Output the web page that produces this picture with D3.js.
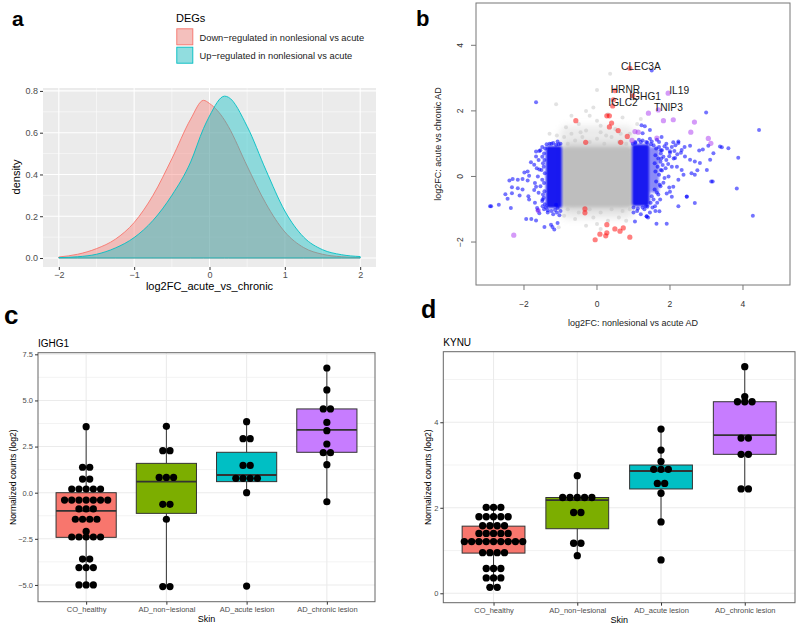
<!DOCTYPE html>
<html><head><meta charset="utf-8">
<script src="https://cdn.jsdelivr.net/npm/d3@7"></script>
<style>
body{margin:0;background:#fff}
svg{display:block}
text{font-family:"Liberation Sans",Arial,Helvetica,sans-serif}
</style>
</head><body>
<svg id="fig" width="800" height="627"></svg>
<script>
// ================= DATA =================
// Panel a: density curves
const densX    = [-2,-1.75,-1.5,-1.25,-1,-0.75,-0.5,-0.25,-0.08,0,0.2,0.25,0.5,0.75,1,1.25,1.5,1.75,2];
const densDown = [0.005,0.018,0.045,0.09,0.17,0.30,0.475,0.665,0.755,0.74,0.66,0.63,0.44,0.26,0.125,0.05,0.018,0.006,0.002];
const densUp   = [0.002,0.006,0.018,0.048,0.098,0.18,0.30,0.46,0.62,0.68,0.775,0.77,0.63,0.42,0.225,0.10,0.04,0.016,0.007];
const degLabels = ["Down\u2212regulated in nonlesional vs acute","Up\u2212regulated in nonlesional vs acute"];
const densXTicks = [-2,-1,0,1,2];
const densXMinor = [-1.5,-0.5,0.5,1.5];
const densYTicks = [0,0.2,0.4,0.6,0.8];
const densYMinor = [0.1,0.3,0.5,0.7];

// Panel b: scatter (dense cores as regions, sparse points listed)
const grayRegions = [
  {x0:-1.02,x1:1.02,y0:-1.3,y1:1.55,level:0.3},
  {x0:-0.97,x1:0.97,y0:-1.02,y1:1.02,level:0.6},
  {x0:-0.95,x1:0.95,y0:-0.92,y1:0.88,level:1}
];
const blueRegions = [
  {x0:-1.40,x1:-0.96,y0:-0.96,y1:0.93,level:1},
  {x0:0.96,x1:1.44,y0:-0.9,y1:0.98,level:1},
  {x0:1.44,x1:1.7,y0:-0.5,y1:0.9,level:0.5}
];
const grayPts = [[-0.8,1.0],[-0.6,1.1],[-0.4,1.2],[-0.2,1.05],[0,1.15],[0.2,1.0],[0.4,1.2],[0.6,1.05],[0.8,1.0],[-0.7,1.3],[-0.3,1.4],[0.1,1.35],[0.5,1.45],[-0.5,1.6],[0,1.7],[0.3,1.9],[-0.2,1.85],[-0.9,1.2],[0.9,1.3],[-0.1,2.1],[0.36,3.13],[0.0,2.64],[-0.3,2.0],[0.7,1.8],[-0.7,1.85],[0.1,1.55],[-0.45,1.35],[0.25,1.25],[0.65,1.3],[-0.85,1.5],[-1.12,2.2],[-0.8,-1.0],[-0.5,-1.1],[-0.2,-1.0],[0.1,-1.1],[0.4,-1.0],[0.7,-1.05],[0.9,-1.0],[-0.6,-1.3],[-0.1,-1.25],[0.3,-1.35],[0.6,-1.25],[-0.3,-1.5],[0.1,-1.6],[-0.9,-1.2],[0.8,-1.35],[-1.05,-1.55],[0.0,-1.45],[-1.3,1.3],[-1.1,1.25],[1.1,1.6],[1.2,1.75]];
const bluePts = [[-1.67,2.26],[-1.08,1.07],[-1.67,0.76],[-1.58,0.78],[-1.81,0.43],[-1.72,0.36],[-1.99,0.12],[-1.9,0.15],[-1.86,0.02],[-2.31,-0.08],[-2.4,-0.12],[-2.17,-0.1],[-2.04,-0.08],[-1.9,-0.12],[-2.33,-0.33],[-2.17,-0.36],[-2.04,-0.4],[-2.51,-0.54],[-2.33,-0.51],[-2.45,-0.68],[-2.12,-0.58],[-1.88,-0.6],[-1.86,-0.7],[-2.9,-0.91],[-2.69,-0.86],[-2.36,-0.96],[-1.64,-0.96],[-1.62,-1.03],[-1.58,-1.12],[-1.94,-1.3],[-1.8,-1.3],[-1.67,-1.34],[-1.44,-1.54],[-1.26,-1.47],[-1.17,-1.62],[-1.08,-1.42],[-1.22,-1.54],[-1.03,-1.18],[-1.08,-0.96],[-1.67,0.61],[-1.62,0.0],[-1.67,-0.31],[-1.72,-0.41],[-1.58,0.21],[-1.49,-0.7],[-1.12,-0.86],[-1.49,-0.91],[-1.5,0.9],[-1.55,0.8],[-1.5,0.6],[-1.48,0.4],[-1.52,0.2],[-1.5,-0.1],[-1.55,-0.3],[-1.48,-0.55],[-1.5,-0.75],[-1.45,-1.0],[-1.35,-1.1],[-1.2,-1.15],[-1.1,-1.1],[-1.3,1.0],[-1.2,1.02],[-1.05,0.98],[-1.6,0.5],[-1.65,0.25],[-1.7,-0.2],[-1.6,-0.5],[-1.7,-0.8],[-2.93,-0.91],
 [-1.42,0.85],[-1.45,0.7],[-1.44,0.5],[-1.46,0.3],[-1.43,0.1],[-1.45,-0.2],[-1.44,-0.45],[-1.46,-0.65],[-1.43,-0.85],[-1.38,0.98],[-1.25,1.0],[-1.12,0.97],[-1.0,1.0],[-1.35,-1.03],[-1.25,-1.05],[-1.15,-1.02],[-1.0,-1.05],[-1.4,-0.95],
 [1.5,3.23],[2.99,1.95],[4.44,1.42],[1.22,1.56],[1.31,1.53],[1.45,1.42],[1.77,1.2],[2.09,1.04],[2.23,1.02],[2.55,0.94],[2.8,0.79],[2.9,0.82],[3.05,0.94],[3.19,0.71],[3.42,0.89],[3.6,0.86],[3.87,0.57],[2.32,0.81],[2.41,0.61],[2.55,0.51],[2.68,0.46],[2.75,0.19],[3.01,0.2],[3.1,0.51],[2.82,0.41],[2.59,0.1],[2.68,0.05],[2.32,0.2],[2.37,0.05],[2.23,-0.1],[3.17,-0.15],[3.83,-0.37],[1.98,-0.34],[2.09,-0.31],[2.0,-0.47],[1.91,-0.52],[2.46,-0.62],[2.68,-0.81],[2.23,-0.91],[2.05,-0.62],[4.27,-1.2],[1.91,-1.44],[1.63,-1.44],[1.71,-1.06],[1.59,-0.91],[1.36,-1.21],[1.04,-1.37],[1.34,-0.91],[1.73,-0.7],[1.64,-0.49],[1.82,-0.19],[1.96,0.0],[2.19,0.3],[2.14,0.56],[2.0,0.77],[2.23,1.07],[1.64,1.12],[1.5,1.07],[1.25,1.32],[3.37,0.91],[3.13,-0.15],[2.46,-0.61],[1.36,-1.22],
 [1.55,0.95],[1.62,0.85],[1.7,0.9],[1.78,0.8],[1.85,0.92],[1.92,0.85],[2.0,0.72],[2.05,0.9],[2.12,0.78],[1.6,0.65],[1.68,0.55],[1.75,0.7],[1.82,0.6],[1.9,0.5],[1.98,0.62],[2.1,0.55],[2.2,0.68],[1.58,0.4],[1.66,0.3],[1.74,0.45],[1.8,0.35],[1.88,0.25],[1.95,0.38],[2.05,0.3],[1.6,0.15],[1.7,0.05],[1.78,0.18],[1.85,-0.05],[1.62,-0.15],[1.72,-0.25],[1.58,-0.4],[1.68,-0.55],[1.55,-0.7],[1.65,-0.8],[1.52,-0.95],[1.6,-1.05],[1.45,-1.1],[1.4,-1.25],[1.2,-1.15],[1.1,-1.05],[1.3,-1.0],[1.0,-1.1],[1.25,1.1],[1.35,1.05],[1.45,1.15],[1.15,1.12],[1.05,1.05],[1.7,1.05],[1.9,1.0],[2.15,0.95],[2.3,0.72],[2.4,0.9],
 [1.48,0.98],[1.38,1.03],[1.2,1.05],[1.05,1.02],[0.98,1.0],[1.0,-0.95],[1.12,-0.98],[1.25,-0.95],[1.38,-0.92],[1.47,-0.8],[1.5,-0.6],[1.75,0.8],[1.75,0.2],[1.74,-0.3],[1.76,0.55]];
const redPts = [[0.9,3.3],[0.49,2.62],[0.98,2.46],[0.45,2.34],[0.43,2.15],[0.27,1.85],[0.34,1.85],[-0.58,1.7],[0.4,1.63],[0.34,1.51],[0.58,1.4],[0.83,1.22],[-0.31,1.04],[0.65,1.04],[-0.33,-0.99],[-0.33,-1.11],[0.27,-1.47],[0.27,-1.72],[0.24,-1.81],[0.49,-1.6],[0.63,-1.67],[0.72,-1.57],[-0.05,-1.93],[0.9,-1.85],[0.08,-1.76]];
const purplePts = [[1.95,2.54],[1.41,1.93],[1.68,2.03],[1.82,1.7],[2.09,1.73],[2.67,1.66],[2.57,1.35],[1.04,1.37],[1.13,1.35],[0.96,1.1],[3.05,1.16],[3.12,1.01],[1.64,1.17],[-2.28,-1.79],[-1.61,-1.04]];
const geneLabels = [
  {gene:"CLEC3A",x:0.66,y:3.25},{gene:"HRNR",x:0.375,y:2.56},{gene:"IGHG1",x:0.885,y:2.32},
  {gene:"IGLC2",x:0.31,y:2.14},{gene:"IL19",x:1.98,y:2.51},{gene:"TNIP3",x:1.56,y:2.0}];
const bXTicks = [-2,0,2,4];
const bYTicks = [-2,0,2,4];

// Panels c, d
const skinGroups = ["CO_healthy","AD_non\u2212lesional","AD_acute lesion","AD_chronic lesion"];
const ighg1Box = [
  {lo:-5.0,q1:-2.42,med:-0.98,q3:0.0,hi:3.58},
  {lo:-5.09,q1:-1.12,med:0.6,q3:1.59,hi:3.6},
  {lo:0.0,q1:0.6,med:0.96,q3:2.19,hi:3.85},
  {lo:-0.49,q1:2.19,med:3.4,q3:4.54,hi:6.76}];
const ighg1Dots = [
  [[3.58,1],[1.38,2],[0.74,2],[0.2,5],[-0.4,7],[-0.88,3],[-1.44,4],[-2.1,1],[-2.4,5],[-3.6,2],[-4.06,3],[-5.0,3]],
  [[3.6,1],[2.28,2],[0.83,3],[-0.63,2],[-1.44,1],[-5.09,2]],
  [[3.85,1],[2.93,2],[1.48,2],[0.78,4],[0.0,1],[-5.06,1]],
  [[6.76,1],[5.57,1],[4.54,2],[3.81,1],[3.36,1],[2.64,1],[2.17,2],[1.52,1],[-0.49,1]]];
const ighg1Ticks = [-5,-2.5,0,2.5,5,7.5];
const ighg1Minor = [-3.75,-1.25,1.25,3.75,6.25];
const kynuBox = [
  {lo:0.14,q1:0.94,med:1.22,q3:1.57,hi:2.01},
  {lo:0.88,q1:1.51,med:2.18,q3:2.24,hi:2.75},
  {lo:1.67,q1:2.44,med:2.86,q3:3.0,hi:3.84},
  {lo:2.44,q1:3.25,med:3.7,q3:4.48,hi:5.3}];
const kynuDots = [
  [[2.01,3],[1.79,5],[1.58,4],[1.4,5],[1.21,9],[0.95,4],[0.58,3],[0.36,3],[0.14,2]],
  [[2.75,1],[2.24,5],[1.89,2],[1.17,2],[0.88,1]],
  [[3.84,1],[3.35,1],[3.08,1],[2.9,3],[2.57,2],[2.34,1],[1.67,1],[0.78,1]],
  [[5.3,1],[4.6,1],[4.48,3],[3.63,2],[3.25,2],[2.44,2]]];
const kynuTicks = [0,2,4];
const kynuMinor = [1,3,5];

// ================= DRAW =================
const svg = d3.select("#fig");
svg.append("rect").attr("width",800).attr("height",627).attr("fill","#fff");
const minus = s => String(s).replace("-","\u2212");
const defs = svg.append("defs");
function blur(id,s){defs.append("filter").attr("id",id).attr("x","-30%").attr("y","-30%").attr("width","160%").attr("height","160%")
  .append("feGaussianBlur").attr("stdDeviation",s);}
blur("blur0",1.3); blur("blur1",1.6); blur("blur2",3.5);

// Panel letters
[["a",12,26,21],["b",416,26,22],["c",4,324,26],["d",421,318,25]].forEach(([t,x,y,s])=>{
  svg.append("text").attr("x",x).attr("y",y).attr("font-size",s).attr("font-weight","bold").attr("fill","#000").text(t);
});

// ---------- Panel a ----------
(function(){
  const x = d3.scaleLinear().domain([-2.21,2.21]).range([43,376]);
  const y = d3.scaleLinear().domain([-0.043,0.814]).range([267,88]);
  const g = svg.append("g");
  g.append("rect").attr("x",43).attr("y",88).attr("width",333).attr("height",179).attr("fill","#EBEBEB");
  densXMinor.forEach(v=>g.append("line").attr("x1",x(v)).attr("x2",x(v)).attr("y1",88).attr("y2",267).attr("stroke","#fff").attr("stroke-width",0.5));
  densYMinor.forEach(v=>g.append("line").attr("x1",43).attr("x2",376).attr("y1",y(v)).attr("y2",y(v)).attr("stroke","#fff").attr("stroke-width",0.5));
  densXTicks.forEach(v=>g.append("line").attr("x1",x(v)).attr("x2",x(v)).attr("y1",88).attr("y2",267).attr("stroke","#fff").attr("stroke-width",1.1));
  densYTicks.forEach(v=>g.append("line").attr("x1",43).attr("x2",376).attr("y1",y(v)).attr("y2",y(v)).attr("stroke","#fff").attr("stroke-width",1.1));
  const cols = ["#F8766D","#00BFC4"];
  [densDown,densUp].forEach((ser,i)=>{
    const pts = densX.map((xv,j)=>[xv,ser[j]]);
    const area = d3.area().x(d=>x(d[0])).y0(y(0)).y1(d=>y(d[1])).curve(d3.curveMonotoneX);
    g.append("path").attr("d",area(pts)).attr("fill",cols[i]).attr("fill-opacity",0.4)
      .attr("stroke",cols[i]).attr("stroke-width",0.9);
  });
  const ax = g.append("g").attr("transform","translate(0,267)")
    .call(d3.axisBottom(x).tickValues(densXTicks).tickSize(3).tickPadding(2).tickFormat(d=>minus(d)));
  const ay = g.append("g").attr("transform","translate(43,0)")
    .call(d3.axisLeft(y).tickValues(densYTicks).tickSize(3).tickPadding(2).tickFormat(d3.format(".1f")));
  [ax,ay].forEach(a=>{a.select(".domain").remove();a.selectAll("line").attr("stroke","#333");
    a.selectAll("text").attr("fill","#4D4D4D").attr("font-size",9).attr("font-family","Liberation Sans, Arial");});
  g.append("text").attr("x",209.5).attr("y",290).attr("text-anchor","middle").attr("font-size",11).text("log2FC_acute_vs_chronic");
  g.append("text").attr("transform","translate(20,177) rotate(-90)").attr("text-anchor","middle").attr("font-size",11).text("density");
  g.append("text").attr("x",176).attr("y",21.5).attr("font-size",11).text("DEGs");
  degLabels.forEach((lab,i)=>{
    const yy = 28.3 + i*18.4;
    g.append("rect").attr("x",176.3).attr("y",yy).attr("width",17).attr("height",17).attr("fill","#F2F2F2");
    g.append("rect").attr("x",176.8).attr("y",yy+0.5).attr("width",16).attr("height",16)
      .attr("fill",cols[i]).attr("fill-opacity",0.4).attr("stroke",cols[i]).attr("stroke-width",0.9);
    g.append("text").attr("x",199.5).attr("y",yy+12.3).attr("font-size",9.3).attr("fill","#1a1a1a").text(lab);
  });
})();

// ---------- Panel b ----------
(function(){
  const x = d3.scaleLinear().domain([-3.315,5.288]).range([476,790]);
  const y = d3.scaleLinear().domain([-3.31,5.29]).range([285,3]);
  const g = svg.append("g");
  const op = d3.scaleLinear().domain([0,1]).range([0,1]);
  defs.append("clipPath").attr("id","clipb").append("rect").attr("x",476).attr("y",3).attr("width",314).attr("height",282);
  const pg = g.append("g").attr("clip-path","url(#clipb)");
  pg.selectAll(".gr").data(grayRegions).join("rect")
    .attr("x",d=>x(d.x0)).attr("width",d=>x(d.x1)-x(d.x0)).attr("y",d=>y(d.y1)).attr("height",d=>y(d.y0)-y(d.y1))
    .attr("rx",d=>d.level<1?8:2).attr("fill","#BEBEBE").attr("opacity",d=>op(d.level))
    .attr("filter",d=>d.level<1?"url(#blur2)":"url(#blur1)");
  pg.selectAll(".gp").data(grayPts).join("circle").attr("cx",d=>x(d[0])).attr("cy",d=>y(d[1])).attr("r",2)
    .attr("fill","#BEBEBE").attr("opacity",0.45);
  pg.selectAll(".br").data(blueRegions).join("rect")
    .attr("x",d=>x(d.x0)).attr("width",d=>x(d.x1)-x(d.x0)).attr("y",d=>y(d.y1)).attr("height",d=>y(d.y0)-y(d.y1))
    .attr("rx",2).attr("fill","#0A0AF0").attr("opacity",d=>op(d.level)*0.95).attr("filter","url(#blur0)");
  pg.selectAll(".bp").data(bluePts).join("circle").attr("cx",d=>x(d[0])).attr("cy",d=>y(d[1])).attr("r",2)
    .attr("fill","#0000FF").attr("opacity",0.55);
  pg.selectAll(".rp").data(redPts).join("circle").attr("cx",d=>x(d[0])).attr("cy",d=>y(d[1])).attr("r",2.6)
    .attr("fill","#FF0000").attr("opacity",0.5);
  pg.selectAll(".pp").data(purplePts).join("circle").attr("cx",d=>x(d[0])).attr("cy",d=>y(d[1])).attr("r",2.6)
    .attr("fill","#A020F0").attr("opacity",0.45);
  g.selectAll(".gl").data(geneLabels).join("text").attr("x",d=>x(d.x)).attr("y",d=>y(d.y))
    .attr("font-size",10.2).attr("fill","#1a1a1a").text(d=>d.gene);
  g.append("rect").attr("x",476).attr("y",3).attr("width",314).attr("height",282).attr("fill","none").attr("stroke","#777").attr("stroke-width",1);
  bXTicks.forEach(v=>{
    g.append("line").attr("x1",x(v)).attr("x2",x(v)).attr("y1",285).attr("y2",290).attr("stroke","#777");
    g.append("text").attr("x",x(v)).attr("y",306.5).attr("text-anchor","middle").attr("font-size",8.5).attr("fill","#333").text(minus(v));
  });
  bYTicks.forEach(v=>{
    g.append("line").attr("x1",471).attr("x2",476).attr("y1",y(v)).attr("y2",y(v)).attr("stroke","#777");
    g.append("text").attr("transform",`translate(463,${y(v)}) rotate(-90)`).attr("text-anchor","middle").attr("font-size",8.5).attr("fill","#333").text(minus(v));
  });
  g.append("text").attr("x",633).attr("y",326).attr("text-anchor","middle").attr("font-size",9).attr("fill","#222").text("log2FC: nonlesional vs acute AD");
  g.append("text").attr("transform","translate(441,144) rotate(-90)").attr("text-anchor","middle").attr("font-size",9).attr("fill","#222").text("log2FC: acute vs chronic AD");
})();

// ---------- Panels c, d ----------
const boxCols = ["#F8766D","#7CAE00","#00BFC4","#C77CFF"];
function boxPanel(o){
  const g = svg.append("g");
  const x = d3.scalePoint().domain(skinGroups).range([o.x0,o.x1]).padding(0.6);
  const y = d3.scaleLinear().domain(o.ydom).range([o.y1,o.y0]);
  const bw = x.step()*0.75;
  g.append("rect").attr("x",o.x0).attr("y",o.y0).attr("width",o.x1-o.x0).attr("height",o.y1-o.y0).attr("fill","#fff");
  o.minor.forEach(v=>{ if(v>o.ydom[0]&&v<o.ydom[1]) g.append("line").attr("x1",o.x0).attr("x2",o.x1).attr("y1",y(v)).attr("y2",y(v)).attr("stroke","#EBEBEB").attr("stroke-width",0.6);});
  o.ticks.forEach(v=>g.append("line").attr("x1",o.x0).attr("x2",o.x1).attr("y1",y(v)).attr("y2",y(v)).attr("stroke","#EBEBEB").attr("stroke-width",1.1));
  skinGroups.forEach(c=>g.append("line").attr("x1",x(c)).attr("x2",x(c)).attr("y1",o.y0).attr("y2",o.y1).attr("stroke","#EBEBEB").attr("stroke-width",1.1));
  o.box.forEach((b,i)=>{
    const cx = x(skinGroups[i]);
    g.append("line").attr("x1",cx).attr("x2",cx).attr("y1",y(b.hi)).attr("y2",y(b.q3)).attr("stroke","#333").attr("stroke-width",1);
    g.append("line").attr("x1",cx).attr("x2",cx).attr("y1",y(b.q1)).attr("y2",y(b.lo)).attr("stroke","#333").attr("stroke-width",1);
    g.append("rect").attr("x",cx-bw/2).attr("width",bw).attr("y",y(b.q3)).attr("height",y(b.q1)-y(b.q3))
      .attr("fill",boxCols[i]).attr("stroke","#333").attr("stroke-width",1);
    g.append("line").attr("x1",cx-bw/2).attr("x2",cx+bw/2).attr("y1",y(b.med)).attr("y2",y(b.med)).attr("stroke","#333").attr("stroke-width",1.8);
  });
  const d = o.dot;
  o.dots.forEach((rows,i)=>{
    const cx = x(skinGroups[i]);
    rows.forEach(([v,n])=>{
      for(let k=0;k<n;k++){
        g.append("circle").attr("cx",cx+(k-(n-1)/2)*d).attr("cy",y(v)).attr("r",d/2).attr("fill","#000");
      }
    });
  });
  g.append("rect").attr("x",o.x0).attr("y",o.y0).attr("width",o.x1-o.x0).attr("height",o.y1-o.y0).attr("fill","none").attr("stroke","#666").attr("stroke-width",1);
  const ay = g.append("g").attr("transform",`translate(${o.x0},0)`)
    .call(d3.axisLeft(y).tickValues(o.ticks).tickSize(3).tickPadding(2).tickFormat(v=>minus(o.fmt(v))));
  const ax = g.append("g").attr("transform",`translate(0,${o.y1})`)
    .call(d3.axisBottom(x).tickSize(3).tickPadding(2));
  [ax,ay].forEach(a=>{a.select(".domain").remove();a.selectAll("line").attr("stroke","#333");
    a.selectAll("text").attr("fill","#4D4D4D").attr("font-size",7.5).attr("font-family","Liberation Sans, Arial");});
  g.append("text").attr("x",(o.x0+o.x1)/2).attr("y",o.y1+20.5).attr("text-anchor","middle").attr("font-size",9).text("Skin");
  g.append("text").attr("transform",`translate(${o.ylabX},${(o.y0+o.y1)/2}) rotate(-90)`).attr("text-anchor","middle").attr("font-size",8.6).text("Normalized counts (log2)");
  g.append("text").attr("x",o.x0).attr("y",o.y0-6).attr("font-size",10).text(o.title);
}
boxPanel({x0:38,x1:375,y0:352.7,y1:601.7,ydom:[-5.908,7.588],ticks:ighg1Ticks,minor:ighg1Minor,fmt:d3.format(".1f"),
  box:ighg1Box,dots:ighg1Dots,dot:7.2,title:"IGHG1",ylabX:16});
boxPanel({x0:443.3,x1:795,y0:351.7,y1:602.7,ydom:[-0.22,5.65],ticks:kynuTicks,minor:kynuMinor,fmt:d3.format("d"),
  box:kynuBox,dots:kynuDots,dot:7.3,title:"KYNU",ylabX:431});
</script>
</body></html>
